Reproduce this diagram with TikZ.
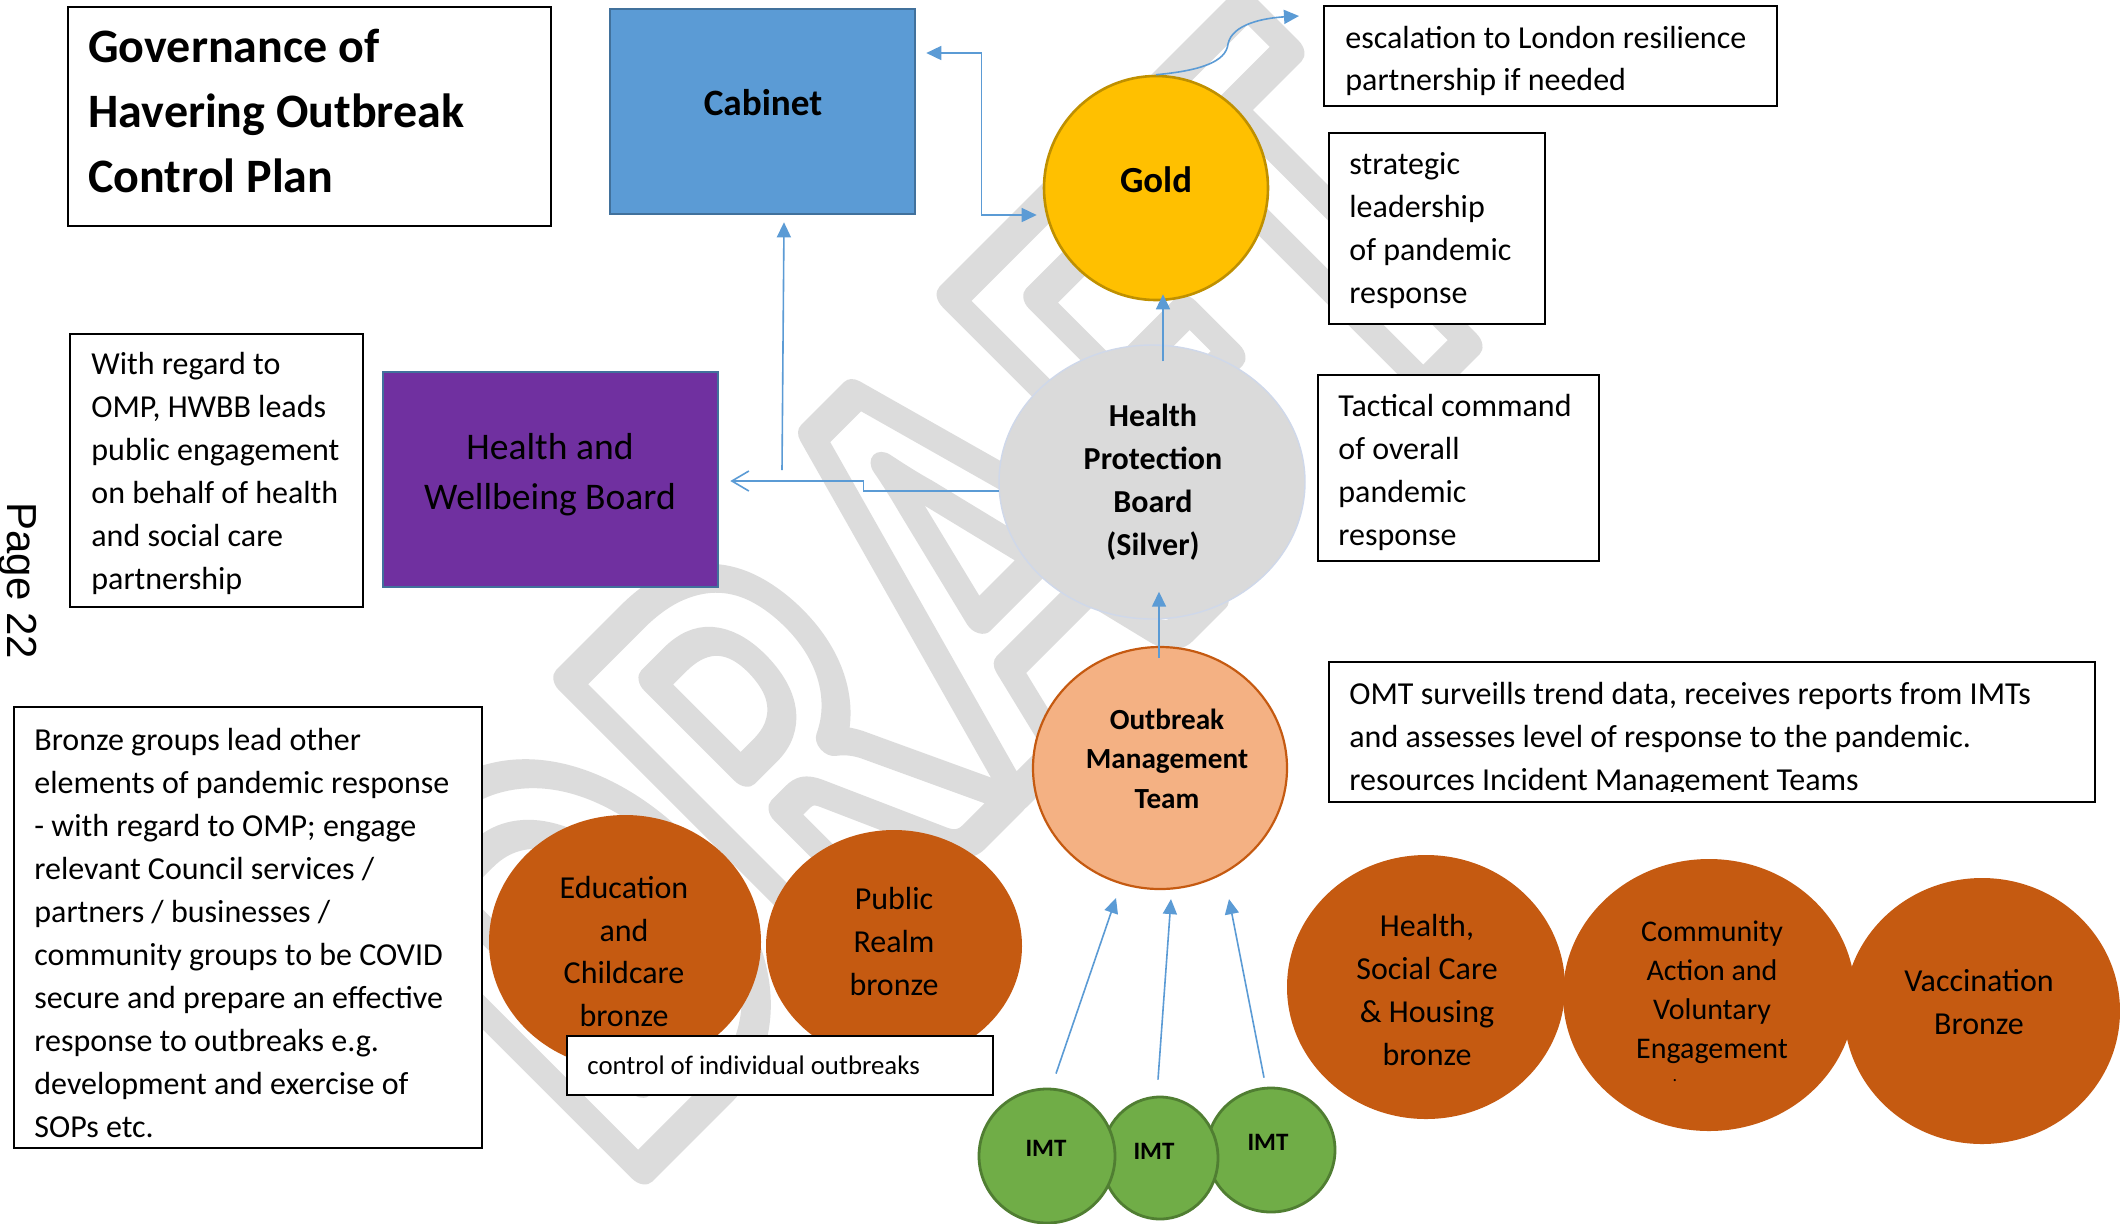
\documentclass[tikz,border=0pt]{standalone}
\usepackage{fontspec}
\setmainfont{Carlito}
\newfontfamily\pagefont{Liberation Sans}
\usetikzlibrary{arrows.meta,calc,shapes.geometric}
\definecolor{cabblue}{HTML}{5B9BD5}
\definecolor{cabborder}{HTML}{41719C}
\definecolor{hwbpurple}{HTML}{7030A0}
\definecolor{goldfill}{HTML}{FFC000}
\definecolor{goldborder}{HTML}{BF9000}
\definecolor{hpbfill}{HTML}{DADADA}
\definecolor{hpbborder}{HTML}{CFD8EA}
\definecolor{omtfill}{HTML}{F4B183}
\definecolor{bronze}{HTML}{C55A11}
\definecolor{imtgreen}{HTML}{70AD47}
\definecolor{imtborder}{HTML}{507E32}
\definecolor{linkblue}{HTML}{5B9BD5}
\definecolor{wmgray}{HTML}{DCDCDC}
\tikzset{
  rectbox/.style={draw=black, line width=1pt, fill=white, inner sep=0pt, rectangle},
  shapeell/.style={ellipse, inner sep=0pt},
  bronzeell/.style={shapeell, fill=bronze, draw=bronze, line width=1pt},
  imtell/.style={shapeell, fill=imtgreen, draw=imtborder, line width=1.4pt},
  txtl/.style={inner sep=0pt, anchor=north west, align=left, font=\fontsize{16}{21.5}\selectfont},
  txtc/.style={inner sep=0pt, anchor=north, align=center},
  link/.style={draw=linkblue, line width=0.8pt},
  tri/.tip={Triangle[length=7.5pt,width=7pt]},
  barb/.tip={Straight Barb[length=8.5pt,width=10pt]},
}
\begin{document}
\begin{tikzpicture}[x=0.5pt,y=-0.5pt]
\useasboundingbox (0,0) rectangle (2120,1223);
\fill[white] (0,0) rectangle (2120,1223);

% watermark
\node[inner sep=0pt, rotate=45, text=wmgray, font=\bfseries\fontsize{245}{245}\selectfont] (wm) at (935,595)
  {\scalebox{0.95}[1.25]{\special{pdf:code 1 Tr 13 w 1 j}DRAFT\special{pdf:code 0 Tr 0.4 w 0 j}}};

% page number
\node[inner sep=0pt, rotate=-90, anchor=base west, font=\pagefont\fontsize{21}{25}\selectfont] (pagenum) at (8,502) {Page 22};

% title
\node[rectbox, line width=1.2pt, minimum width=241.5pt, minimum height=109.5pt] (titlebox) at (309.5,116.5) {};
\node[txtl, font=\bfseries\fontsize{24}{32.5}\selectfont] (title) at (88,17) {\strut Governance of\\Havering Outbreak\\Control Plan};

% cabinet
\node[rectangle, fill=cabblue, draw=cabborder, line width=1.3pt, minimum width=152.5pt, minimum height=102.5pt] (cabinet) at (762.5,111.5) {};
\node[txtc, font=\bfseries\fontsize{18.6}{22}\selectfont] (cabtext) at (763,83.9) {\strut Cabinet};

% HWB
\node[rectangle, fill=hwbpurple, draw=cabborder, line width=1.3pt, minimum width=167.5pt, minimum height=107.5pt] (hwb) at (550.5,479.5) {};
\node[txtc, font=\fontsize{18.8}{25}\selectfont] (hwbtext) at (550,423.7) {\strut Health and\\Wellbeing Board};

% text boxes
\node[rectbox, minimum width=146.5pt, minimum height=136.5pt] (hwbbbox) at (216.5,470.5) {};
\node[txtl] (hwbbtext) at (91,343.9) {\strut With regard to\\OMP, HWBB leads\\public engagement\\on behalf of health\\and social care\\partnership};

\node[rectbox, minimum width=226.5pt, minimum height=50pt] (esc) at (1550.5,56) {};
\node[txtl, font=\fontsize{16}{21}\selectfont] (esctext) at (1345,18.7) {\strut escalation to London resilience\\partnership if needed};

\node[rectbox, minimum width=108pt, minimum height=95.5pt] (strat) at (1437,228.5) {};
\node[txtl] (strattext) at (1349,143.9) {\strut strategic\\leadership\\of pandemic\\response};

\node[rectbox, minimum width=140.5pt, minimum height=93pt] (tact) at (1458.5,468) {};
\node[txtl] (tacttext) at (1338,385.9) {\strut Tactical command\\of overall\\pandemic\\response};

\node[rectbox, minimum width=383pt, minimum height=70pt] (omtbox) at (1712,732) {};
\begin{scope}
\clip (1329,662) rectangle (2095,791);
\node[txtl] (omtboxtext) at (1349,673.9) {\strut OMT surveills trend data, receives reports from IMTs\\and assesses level of response to the pandemic.\\resources Incident Management Teams};
\end{scope}

\node[rectbox, minimum width=234.25pt, minimum height=220.5pt] (bronzebox) at (247.75,927.5) {};
\node[txtl] (bronzetext) at (34,719.9) {\strut Bronze groups lead other\\elements of pandemic response\\- with regard to OMP; engage\\relevant Council services /\\partners / businesses /\\community groups to be COVID\\secure and prepare an effective\\response to outbreaks e.g.\\development and exercise of\\SOPs etc.};

% Gold, HPB, OMT
\node[shapeell, fill=goldfill, draw=goldborder, line width=1.3pt, minimum width=112pt, minimum height=112pt] (gold) at (1156,188) {};
\node[txtc, font=\bfseries\fontsize{18.4}{22}\selectfont] (goldtext) at (1156,161.2) {\strut Gold};

\node[shapeell, fill=hpbfill, draw=hpbborder, line width=0.7pt, minimum width=153pt, minimum height=137pt] (hpb) at (1152,482) {};
\node[txtc, font=\bfseries\fontsize{16}{21.5}\selectfont] (hpbtext) at (1153,395.9) {\strut Health\\Protection\\Board\\(Silver)};

\node[shapeell, fill=omtfill, draw=bronze, line width=1.1pt, minimum width=127pt, minimum height=121pt] (omt) at (1160,768) {};
\node[txtc, font=\bfseries\fontsize{14.6}{19.75}\selectfont] (omttext) at (1167,701.4) {\strut Outbreak\\Management\\Team};

% bronze groups
\node[bronzeell, minimum width=135pt, minimum height=126pt] (edu) at (625,942) {};
\node[txtc, font=\fontsize{16}{21.4}\selectfont] (edutext) at (624,868) {\strut Education\\and\\Childcare\\bronze};
\node[bronzeell, minimum width=127pt, minimum height=115pt] (pub) at (894,946) {};
\node[txtc, font=\fontsize{16}{21.5}\selectfont] (pubtext) at (894,879) {\strut Public\\Realm\\bronze};

\node[rectbox, minimum width=213pt, minimum height=29.5pt] (ctrl) at (780,1065.5) {};
\node[inner sep=0pt, anchor=base west, font=\fontsize{13.4}{15}\selectfont] (ctrltext) at (587,1074) {control of individual outbreaks};

\node[bronzeell, minimum width=138pt, minimum height=131pt] (hsch) at (1426,987) {};
\node[txtc, font=\fontsize{16}{21.5}\selectfont] (hschtext) at (1427,906) {\strut Health,\\Social Care\\\& Housing\\bronze};
\node[bronzeell, minimum width=145pt, minimum height=135pt] (comm) at (1709,995) {};
\node[txtc, font=\fontsize{15}{19.5}\selectfont] (commtext) at (1712,913.7) {\strut Community\\Action and\\Voluntary\\Engagement};
\node[inner sep=0pt, anchor=base, font=\fontsize{9}{10}\selectfont] (commdot) at (1675,1081) {.};
\node[bronzeell, minimum width=137pt, minimum height=132pt] (vacc) at (1982,1011) {};
\node[txtc, font=\fontsize{16}{21.5}\selectfont] (vacctext) at (1979,961) {\strut Vaccination\\Bronze};

% IMTs
\node[imtell, minimum width=64pt, minimum height=62pt] (imt3) at (1271,1150) {};
\node[imtell, minimum width=58pt, minimum height=61pt] (imt2) at (1160,1158) {};
\node[imtell, minimum width=68pt, minimum height=67pt] (imt1) at (1047,1156) {};
\node[inner sep=0pt, anchor=base, font=\bfseries\fontsize{12.5}{15}\selectfont] (imt1text) at (1046,1156) {IMT};
\node[inner sep=0pt, anchor=base, font=\bfseries\fontsize{12.5}{15}\selectfont] (imt2text) at (1154,1159) {IMT};
\node[inner sep=0pt, anchor=base, font=\bfseries\fontsize{12.5}{15}\selectfont] (imt3text) at (1268,1150) {IMT};

% connectors
\draw[link, tri-tri] ([shift={(10,-58.5)}]cabinet.east) -- ++(55,0) |- ([shift={(-6,27)}]gold.west);
\coordinate (hwbup) at (782,470);
\draw[link, -tri] (hwbup) -- ([shift={(21.5,7)}]cabinet.south);
\draw[link, -barb] ([shift={(1,9)}]hpb.west) -- ++(-136,0) -- ++(0,-10) -- ([shift={(11,1.5)}]hwb.east);
\draw[link, -tri] ([shift={(11,17)}]hpb.north) -- ([shift={(7,-7)}]gold.south);
\draw[link, -tri] ([shift={(-1,12)}]omt.north) -- ([shift={(7,-28)}]hpb.south);
\draw[link, -tri] ([shift={(9,-14)}]imt1.north) -- ([shift={(-44,8)}]omt.south);
\draw[link, -tri] ([shift={(-2,-16)}]imt2.north) -- ([shift={(11,9)}]omt.south);
\draw[link, -tri] ([shift={(-7,-9)}]imt3.north) -- ([shift={(69,9)}]omt.south);
\coordinate (escbend) at (1228,44);
\draw[link, -tri] (gold.north) .. controls +(44,-4) and +(-2,18) .. (escbend) .. controls +(4,-20) and +(-35,2) .. ([shift={(-24,11)}]esc.north west);
\end{tikzpicture}
\end{document}
